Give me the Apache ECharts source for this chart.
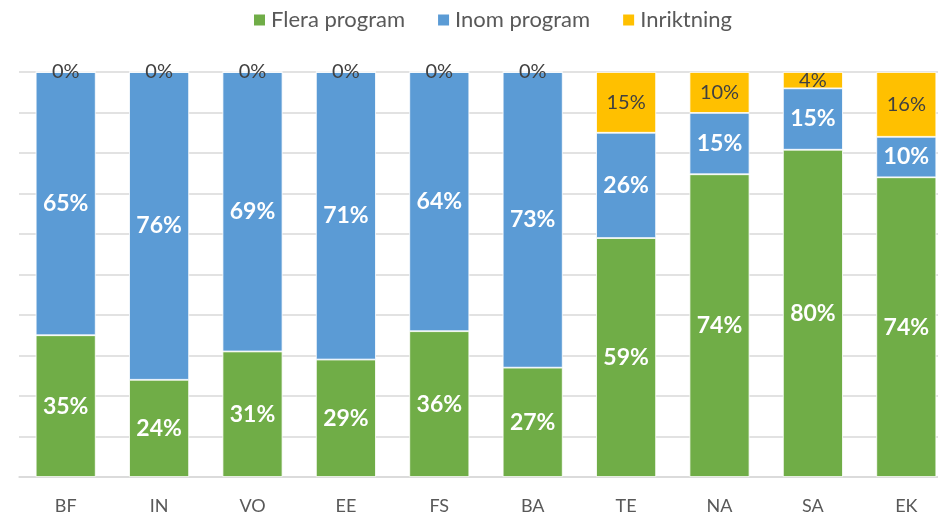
<!DOCTYPE html>
<html><head><meta charset="utf-8">
<script src="https://cdn.jsdelivr.net/npm/echarts@6/dist/echarts.min.js"></script>
<style>html,body{margin:0;padding:0;background:#fff}#c{width:938px;height:516px}</style>
</head><body><div id="c"></div>
<script>
const categories = ['BF','IN','VO','EE','FS','BA','TE','NA','SA','EK'];
const seriesNames = ['Flera program','Inom program','Inriktning'];
const flera = [35,24,31,29,36,27,59,74,80,74];
const inom = [65,76,69,71,64,73,26,15,15,10];
const inriktning = [0,0,0,0,0,0,15,10,4,16];
const colors = ['#70AD47','#5B9BD5','#FFC000'];

const raw = [flera, inom, inriktning];
const sums = categories.map((_, i) => raw.reduce((s, a) => s + a[i], 0));
const font = 'Lato, "Open Sans", sans-serif';

const chart = echarts.init(document.getElementById('c'));
chart.setOption({
  animation: false,
  legend: {
    top: 4, left: 247, itemWidth: 13, itemHeight: 13, itemGap: 31,
    icon: 'rect',
    textStyle: { fontSize: 22, color: '#595959', fontFamily: font }
  },
  grid: { left: 19, top: 72, width: 934, height: 405, outerBoundsMode: 'none', containLabel: false },
  xAxis: {
    type: 'category', data: categories,
    axisTick: { show: false },
    axisLine: { lineStyle: { color: '#D9D9D9', width: 1.5 } },
    axisLabel: { color: '#595959', fontSize: 18, margin: 20, fontFamily: font }
  },
  yAxis: {
    type: 'value', min: 0, max: 100, interval: 10,
    axisLabel: { show: false }, axisLine: { show: false }, axisTick: { show: false },
    splitLine: { lineStyle: { color: '#D9D9D9', width: 1.5 } }
  },
  series: raw.map((arr, si) => ({
    name: seriesNames[si], type: 'bar', stack: 'all', barWidth: 60,
    itemStyle: { color: colors[si], borderColor: '#fff', borderWidth: 0.8 },
    data: arr.map((v, i) => ({ value: v / sums[i] * 100, raw: v })),
    label: {
      show: true, position: 'inside',
      formatter: p => p.data.raw + '%',
      color: si === 2 ? '#404040' : '#fff',
      fontWeight: si === 2 ? 'normal' : 'bold',
      fontSize: si === 2 ? 20 : 23,
      fontFamily: font
    }
  }))
});
</script></body></html>
